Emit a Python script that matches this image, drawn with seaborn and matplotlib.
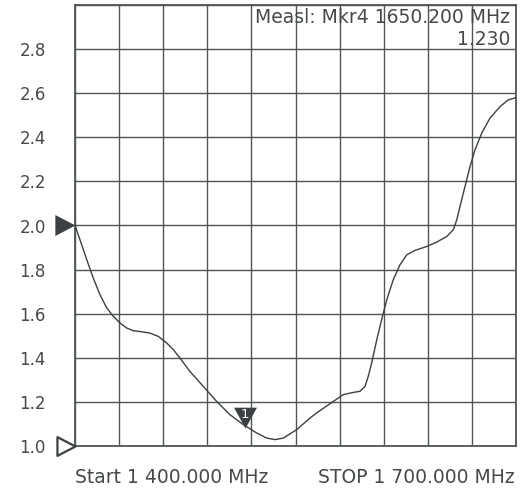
import numpy as np
import pandas as pd
import matplotlib
matplotlib.use("Agg")
import matplotlib.pyplot as plt
from matplotlib.path import Path
import seaborn as sns

# Data (frequency in MHz, VSWR)
freq = [1400, 1403.4, 1408.0, 1412.4, 1417.0, 1421.6, 1426.1, 1430.6, 1435.2, 1439.7,
        1445.4, 1451.0, 1456.7, 1462.4, 1466.9, 1471.4, 1478.2, 1487.3, 1496.4, 1505.4,
        1514.5, 1523.6, 1530.4, 1536.1, 1541.7, 1550.8, 1559.9, 1564.4, 1575.7, 1582.5,
        1589.3, 1593.9, 1597.3, 1599.5, 1601.8, 1605.3, 1608.6, 1612.1, 1616.5, 1621.1,
        1625.7, 1631.3, 1639.3, 1646.1, 1652.9, 1657.4, 1659.7, 1661.9, 1665.3, 1668.7,
        1672.1, 1676.7, 1682.3, 1689.1, 1694.8, 1700]
vswr = [2.0, 1.935, 1.845, 1.762, 1.686, 1.626, 1.588, 1.558, 1.535, 1.523,
        1.518, 1.512, 1.497, 1.467, 1.437, 1.399, 1.338, 1.270, 1.202, 1.142,
        1.097, 1.059, 1.036, 1.029, 1.036, 1.074, 1.127, 1.150, 1.202, 1.233,
        1.243, 1.248, 1.270, 1.316, 1.376, 1.482, 1.573, 1.663, 1.754, 1.822,
        1.867, 1.887, 1.905, 1.925, 1.950, 1.981, 2.026, 2.086, 2.177, 2.267,
        2.343, 2.419, 2.487, 2.539, 2.570, 2.580]
y_ticks = [1.0, 1.2, 1.4, 1.6, 1.8, 2.0, 2.2, 2.4, 2.6, 2.8]
y_tick_labels = ["1.0", "1.2", "1.4", "1.6", "1.8", "2.0", "2.2", "2.4", "2.6", "2.8"]
start_label = "Start 1 400.000 MHz"
stop_label = "STOP 1 700.000 MHz"
marker_title = "Measl: Mkr4 1650.200 MHz"
marker_value = "1.230"
mkr1_freq, mkr1_val = 1515.7, 1.080
ref_level = 2.0

sns.set_style("white")
plt.rcParams['font.family'] = ['DejaVu Sans']

dark = '#3b4042'
gridc = '#4f5557'
txt = '#45494b'

W, H = 529, 490
fig = plt.figure(figsize=(W / 100, H / 100), dpi=100)
L, R, T, B = 75, 516, 5, 446
ax = fig.add_axes([L / W, (H - B) / H, (R - L) / W, (B - T) / H])

df = pd.DataFrame({"freq": freq, "vswr": vswr})
sns.lineplot(data=df, x="freq", y="vswr", ax=ax, color=dark, linewidth=1.0, zorder=4)

ax.set_xlim(1400, 1700)
ax.set_ylim(1.0, 3.0)
ax.set_xticks(np.linspace(1400, 1700, 11))
ax.set_xticklabels([])
ax.set_yticks(y_ticks + [3.0])
ax.set_yticklabels(y_tick_labels + [""])
ax.tick_params(axis='both', length=0)
ax.tick_params(axis='y', pad=21, labelsize=12, labelcolor=txt)
ax.grid(True, color=gridc, linewidth=1.0)
ax.set_xlabel("")
ax.set_ylabel("")
for s in ax.spines.values():
    s.set_color(gridc)
    s.set_linewidth(1.3)
    s.set_visible(True)

# Left reference markers (apex at the axis)
tri_right = Path([(0, 0), (-1, 0.52), (-1, -0.52), (0, 0)],
                 [Path.MOVETO, Path.LINETO, Path.LINETO, Path.CLOSEPOLY])
ax.plot([1400], [ref_level], marker=tri_right, markersize=29, color=dark,
        markeredgewidth=0, clip_on=False, zorder=5)
ax.plot([1400], [1.0], marker=tri_right, markersize=26, markerfacecolor='white',
        markeredgecolor=dark, markeredgewidth=1.6, clip_on=False, zorder=5)

# Marker 1 (down-pointing triangle, apex on the trace)
tri_down = Path([(0, 0), (-0.55, 1), (0.55, 1), (0, 0)],
                [Path.MOVETO, Path.LINETO, Path.LINETO, Path.CLOSEPOLY])
ax.plot([mkr1_freq], [mkr1_val], marker=tri_down, markersize=30, color=dark,
        markeredgewidth=0, zorder=6)
ax.annotate("1", xy=(mkr1_freq, mkr1_val), xytext=(0, 10), textcoords='offset points',
            ha='center', va='center', color='white', fontsize=9.5, zorder=7)

# Marker readout
fig.text(510 / W, 1 - 22.7 / H, marker_title, ha='right', va='baseline',
         fontsize=13.5, color=txt)
fig.text(510 / W, 1 - 45 / H, marker_value, ha='right', va='baseline',
         fontsize=13.5, color=txt)

# Start / stop labels
fig.text(75 / W, 1 - 483.3 / H, start_label, ha='left', va='baseline',
         fontsize=13.5, color=txt)
fig.text(514.5 / W, 1 - 483.3 / H, stop_label, ha='right', va='baseline',
         fontsize=13.5, color=txt)

fig.savefig("out.png", dpi=100)
